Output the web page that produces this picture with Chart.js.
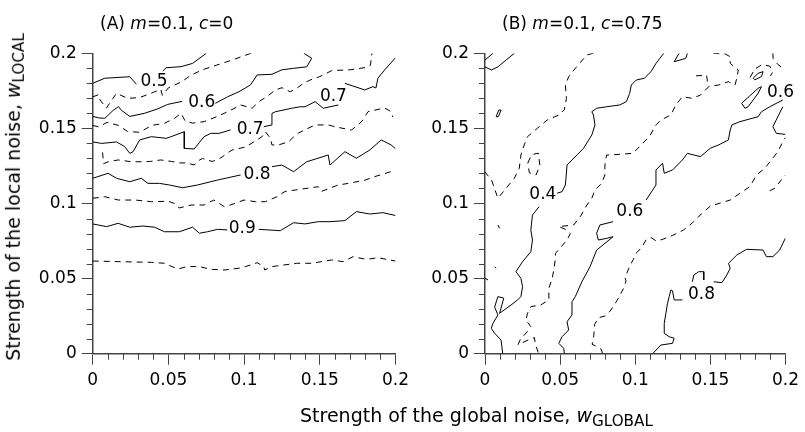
<!DOCTYPE html>
<html>
<head>
<meta charset="utf-8">
<script src="https://cdn.jsdelivr.net/npm/chart.js@4/dist/chart.umd.min.js"></script>
<style>
  body { margin: 0; background: #fff; }
  #wrap { position: relative; width: 805px; height: 432px; font-family: "DejaVu Sans", sans-serif; color: #000; overflow: hidden; }
  canvas { position: absolute; top: 0; }
  #chartA { left: 0; }
  #chartB { left: 400px; }
  .title { position: absolute; top: 13px; font-size: 17px; line-height: 20px; white-space: nowrap; }
  .axis-title { position: absolute; font-size: 19px; line-height: 22px; white-space: nowrap; }
  .sub { font-size: 0.8em; vertical-align: -0.28em; }
  #xtitle { left: 300px; top: 404px; }
  #ytitle { left: 16px; top: 197px; transform: translate(-50%, -50%) rotate(-90deg); }
</style>
</head>
<body>
<div id="wrap">
  <canvas id="chartA" width="415" height="432" style="width:415px;height:432px"></canvas>
  <canvas id="chartB" width="405" height="432" style="width:405px;height:432px"></canvas>
  <div class="title" style="left:100px">(A) <i>m</i>=0.1, <i>c</i>=0</div>
  <div class="title" style="left:502px">(B) <i>m</i>=0.1, <i>c</i>=0.75</div>
  <div class="axis-title" id="xtitle">Strength of the global noise, <i>w</i><span class="sub">GLOBAL</span></div>
  <div class="axis-title" id="ytitle">Strength of the local noise, <i>w</i><span class="sub">LOCAL</span></div>
</div>
<script>
// Panel A contours (c = 0), [w_GLOBAL, w_LOCAL], null = break in the line
const a05 = [[0,0.180],[0.008,0.1834],[0.0245,0.1844],[0.0289,0.1794],null,[0.0463,0.1882],[0.0485,0.1904],[0.0584,0.1911],[0.066,0.1933],[0.075,0.2]];
const a055 = [[0,0.171],[0.004,0.1725],[0.0048,0.169],[0.009,0.1635],[0.0157,0.1734],[0.023,0.170],[0.031,0.1705],[0.040,0.174],[0.045,0.176],[0.046,0.172],[0.05,0.177],[0.0587,0.181],[0.065,0.1855],[0.0725,0.189],[0.0815,0.192],[0.092,0.1955],[0.1045,0.2]];
const a06 = [[0,0.158],[0.004,0.157],[0.008,0.1567],[0.0135,0.162],[0.017,0.1645],[0.019,0.162],[0.0245,0.158],[0.034,0.160],[0.043,0.163],[0.0496,0.166],[0.059,0.168],null,[0.081,0.1667],[0.089,0.171],[0.0966,0.1744],[0.1043,0.179],[0.1064,0.1822],[0.1086,0.1856],[0.1184,0.186],[0.125,0.189],[0.1327,0.19],[0.1414,0.191],[0.1447,0.1967],[0.1395,0.2]];
const a065 = [[0,0.152],[0.004,0.151],[0.0095,0.154],[0.017,0.152],[0.023,0.148],[0.031,0.1474],[0.039,0.152],[0.0474,0.1534],[0.054,0.1567],[0.0584,0.160],[0.061,0.155],[0.066,0.1535],[0.0736,0.1545],[0.0824,0.158],[0.091,0.162],[0.0977,0.1656],[0.1053,0.1634],[0.1097,0.1678],[0.115,0.1711],[0.1207,0.1756],[0.125,0.1771],[0.1305,0.1744],[0.1348,0.1767],[0.1392,0.180],[0.1436,0.1822],[0.150,0.1845],[0.158,0.1885],[0.170,0.189],[0.180,0.1905],[0.1835,0.192],[0.184,0.197],[0.1845,0.2]];
const a07 = [[0,0.141],[0.006,0.140],[0.0157,0.141],[0.021,0.138],[0.0245,0.1334],[0.0267,0.1345],[0.031,0.1423],[0.0387,0.1445],[0.0485,0.1434],[0.0518,0.1445],[0.0605,0.1478],[0.0605,0.1367],[0.067,0.1363],[0.0736,0.1445],[0.078,0.1467],[0.0835,0.1467],[0.0911,0.149],null,[0.113,0.1511],[0.1184,0.1523],[0.1184,0.160],[0.1207,0.1611],[0.1315,0.1634],[0.137,0.1644],[0.1403,0.1644],[0.1469,0.1678],[0.1523,0.1634],[0.1622,0.1656],null,[0.1666,0.180],[0.1797,0.1756],[0.1851,0.1778],[0.1871,0.1769],[0.1884,0.1834],[0.1928,0.1889],[0.2,0.197]];
const a075 = [[0.0065,0.134],[0.0072,0.1265],[0.0102,0.1278],[0.0168,0.129],[0.0256,0.1278],[0.0321,0.1278],[0.038,0.128],[0.045,0.129],[0.052,0.128],[0.058,0.127],[0.0625,0.127],[0.067,0.1256],[0.069,0.128],[0.0725,0.130],[0.0757,0.129],[0.079,0.128],[0.082,0.129],[0.0855,0.131],[0.089,0.1336],[0.092,0.1356],[0.101,0.1376],[0.1119,0.1445],[0.1141,0.1478],[0.1174,0.1434],[0.1184,0.139],[0.1228,0.139],[0.1294,0.1411],[0.134,0.1456],[0.136,0.147],[0.1469,0.1523],[0.1556,0.1523],[0.160,0.1511],[0.1709,0.1489],[0.1753,0.1523],[0.1786,0.1556],[0.1805,0.159],[0.1818,0.1611],[0.1928,0.1636],[0.1971,0.1611],[0.1982,0.1576]];
const a08 = [[0,0.1168],[0.0102,0.1201],[0.0157,0.1168],[0.0245,0.1145],[0.0321,0.1168],[0.0365,0.1134],[0.0441,0.1134],[0.0507,0.1123],[0.0594,0.1105],[0.0692,0.1123],[0.0824,0.1156],[0.0977,0.119],null,[0.1184,0.1245],[0.125,0.1256],[0.1327,0.1212],[0.1414,0.1278],[0.1556,0.1323],[0.1567,0.1256],[0.1666,0.1345],[0.1742,0.1301],[0.183,0.1356],[0.1906,0.1423],[0.1971,0.139],[0.2,0.1365]];
const a085 = [[0,0.1035],[0.008,0.1045],[0.017,0.1023],[0.028,0.1023],[0.039,0.1012],[0.05,0.1015],[0.054,0.100],[0.057,0.097],[0.065,0.099],[0.0736,0.099],[0.08,0.1023],[0.0868,0.098],[0.091,0.099],[0.1,0.1023],[0.1075,0.1012],[0.114,0.1012],[0.1217,0.1045],[0.127,0.108],[0.149,0.1112],[0.151,0.108],[0.162,0.1123],[0.169,0.1134],[0.18,0.1156],[0.186,0.1178],[0.197,0.1212],[0.2,0.1215]];
const a09 = [[0,0.0864],[0.0092,0.0846],[0.0168,0.0868],[0.0245,0.0842],[0.0332,0.085],[0.0409,0.0842],[0.0474,0.0812],[0.0572,0.0812],[0.066,0.0842],[0.0704,0.0802],[0.0758,0.0812],[0.0824,0.0828],[0.0889,0.0824],null,[0.1097,0.0828],[0.1239,0.0819],[0.1327,0.0872],[0.1403,0.0864],[0.149,0.0879],[0.1567,0.0879],[0.1666,0.0886],[0.1742,0.0946],[0.183,0.093],[0.1917,0.0939],[0.2,0.092]];
const a095 = [[0,0.0617],[0.0168,0.0613],[0.0387,0.0608],[0.0474,0.0602],[0.0561,0.0564],[0.0627,0.058],[0.0704,0.058],[0.078,0.0562],[0.0868,0.0557],[0.0966,0.0569],[0.101,0.058],[0.1086,0.0606],[0.113,0.058],[0.1136,0.0557],[0.1184,0.058],[0.1348,0.0602],[0.1447,0.0602],[0.1578,0.0624],[0.1654,0.0613],[0.172,0.0646],[0.1807,0.0628],[0.1884,0.0639],[0.2,0.0617]];

// Panel B contours (c = 0.75)
const bCorner = [[0,0.1955],[0.0053,0.2],null,[0,0.191],[0.0042,0.1889],[0.0086,0.191],[0.0195,0.2],null,[0.0074,0.1578],[0.0092,0.1622],[0.0107,0.1622],[0.0089,0.1578],[0.0074,0.1578]];
const b03 = [[0.072,0.2],[0.0678,0.1989],[0.0601,0.190],[0.0557,0.1844],[0.0535,0.1789],[0.0542,0.170],[0.0528,0.1623],[0.0491,0.1589],[0.0414,0.1556],[0.0349,0.1501],[0.0283,0.1445],[0.0261,0.139],[0.0239,0.1323],[0.0228,0.1234],[0.0195,0.1168],[0.014,0.1101],[0.0086,0.1035],[0.0044,0.1155],[0,0.121],null,[0.0285,0.127],[0.031,0.1325],[0.0355,0.1335],[0.0365,0.1255],[0.034,0.119],[0.0295,0.1205],[0.0285,0.127],null,[0.0086,0.0857],[0.0097,0.0835],null,[0.0064,0.0579],[0.0074,0.0569],null,[0,0.0502],[0.002,0.0491]];
const b04 = [[0.0118,0],[0.0107,0.0091],[0.0064,0.0136],[0.0042,0.0169],[0.0053,0.0202],[0.0086,0.0258],[0.0064,0.031],[0.0086,0.038],[0.0125,0.037],[0.0097,0.0269],[0.0173,0.0324],[0.0217,0.0358],[0.0239,0.038],[0.025,0.0446],[0.0239,0.0502],[0.0206,0.0546],[0.025,0.0613],[0.0305,0.0679],[0.0316,0.0757],[0.0305,0.0824],[0.0316,0.0923],[0.036,0.0979],null,[0.048,0.1068],[0.0513,0.1079],[0.0535,0.1123],[0.0546,0.1256],[0.0579,0.129],[0.0612,0.1323],[0.0656,0.1368],[0.0711,0.1456],[0.0732,0.1523],[0.0722,0.1589],[0.0711,0.1611],[0.0743,0.1634],[0.0809,0.1644],[0.0897,0.1656],[0.0941,0.1678],[0.0963,0.1734],[0.0974,0.1789],[0.1007,0.1822],[0.1061,0.1834],[0.1105,0.1878],[0.1138,0.1933],[0.119,0.2],null,[0.1292,0.2],[0.1259,0.1944],[0.1336,0.1966],[0.1347,0.2]];
const b05 = [[0.152,0.2],[0.16,0.1995],[0.1632,0.1977],[0.1632,0.1933],[0.1686,0.1889],[0.1676,0.1834],[0.1664,0.1789],[0.162,0.1811],[0.1555,0.1789],[0.1489,0.1778],[0.1434,0.1722],[0.138,0.170],[0.1314,0.1711],[0.127,0.1656],[0.1237,0.1589],[0.1171,0.1556],[0.1138,0.1523],[0.1094,0.1445],[0.1039,0.139],[0.0985,0.1334],[0.0831,0.1323],[0.0809,0.1323],[0.0798,0.1256],[0.0798,0.119],[0.0776,0.1134],[0.0732,0.109],[0.0711,0.1035],[0.0678,0.099],[0.0634,0.0912],[0.059,0.0857],[0.0491,0.0846],[0.0535,0.0828],[0.0568,0.080],[0.0546,0.0757],[0.0469,0.0668],[0.0469,0.0635],[0.0458,0.0557],[0.0447,0.0502],[0.0425,0.0435],[0.0425,0.0358],[0.037,0.0324],[0.0305,0.0313],[0.0283,0.0269],[0.0272,0.0224],[0.0305,0.018],[0.028,0.0145],[0.0235,0.0095],[0.022,0.006],[0.0274,0.0085],[0.0329,0.0107],[0.0336,0.006],[0.0357,0],null,[0.1405,0.185],[0.1475,0.1855],[0.1485,0.1778]];
const b06 = [[0.0528,0],[0.0524,0.0036],[0.0491,0.0069],[0.0513,0.0113],[0.0557,0.0158],[0.0546,0.0213],[0.0579,0.0258],[0.0579,0.0346],[0.0601,0.038],[0.0645,0.0479],[0.0699,0.0579],[0.0743,0.069],[0.0853,0.0779],[0.081,0.0768],[0.0754,0.0757],[0.0743,0.0802],[0.0765,0.0857],[0.0853,0.0879],null,[0.1072,0.1023],[0.1138,0.1123],[0.1138,0.1223],[0.1182,0.1268],[0.1193,0.1201],[0.1248,0.1223],[0.1314,0.129],[0.1347,0.1334],[0.139,0.1323],[0.1434,0.1312],[0.15,0.1368],[0.1555,0.139],[0.162,0.1423],[0.1632,0.1489],[0.1643,0.1523],[0.1697,0.1545],[0.1818,0.1578],[0.184,0.1611],[0.1895,0.1644],[0.1982,0.1689],null,[0.1982,0.1644],[0.1916,0.1511],[0.1939,0.1467],[0.2,0.146],null,[0.1708,0.1667],[0.173,0.1634],[0.1752,0.1645],[0.1818,0.1734],[0.184,0.1778],[0.1818,0.1767],[0.1708,0.1667],null,[0.1785,0.1834],[0.1818,0.1867],[0.1851,0.1878],[0.184,0.1845],[0.1796,0.1823],[0.1785,0.1834]];
const b065 = [[0.1765,0.184],[0.1795,0.1895],[0.1845,0.1925],[0.1895,0.1915],[0.1915,0.1875],[0.190,0.185],null,[0.1916,0.2],[0.1918,0.1965],[0.195,0.1925],[0.199,0.1895]];
const b07 = [[0.0783,0],[0.0774,0.0029],[0.0745,0.0047],[0.0713,0.0063],[0.0724,0.0118],[0.073,0.0196],[0.0757,0.024],[0.080,0.0251],[0.0833,0.0284],[0.0877,0.0351],[0.0921,0.0433],[0.0939,0.0484],[0.0932,0.0506],[0.0959,0.0573],[0.0987,0.0628],[0.1009,0.0672],[0.1042,0.0706],[0.1075,0.0762],[0.1107,0.0772],[0.114,0.075],[0.1184,0.0762],[0.125,0.0788],[0.1322,0.0824],[0.1382,0.0872],[0.144,0.093],[0.150,0.0983],[0.1632,0.1023],[0.1697,0.1068],[0.1763,0.1112],[0.1807,0.119],[0.1862,0.1234],[0.1906,0.129],[0.1949,0.1345],[0.1982,0.1411],[0.2,0.144],null,[0.1895,0.1085],[0.193,0.1102],[0.1972,0.1157],[0.2,0.119]];
const b08 = [[0.1116,0],[0.1171,0.0058],[0.1248,0.0069],[0.1259,0.0103],[0.1226,0.0113],[0.1193,0.0136],[0.1193,0.0202],[0.1204,0.0269],[0.1215,0.0336],[0.1226,0.038],[0.1237,0.0424],[0.1248,0.0419],[0.1259,0.0358],[0.1314,0.0358],null,[0.1522,0.0479],[0.1577,0.0473],[0.161,0.0524],[0.1632,0.0569],[0.1621,0.0602],[0.1676,0.0657],[0.1741,0.0695],[0.1851,0.069],[0.1873,0.0646],[0.1916,0.0646],[0.1961,0.069],[0.2,0.077],null,[0.138,0.0479],[0.139,0.0524],[0.1423,0.0546],[0.1456,0.0546],[0.1456,0.0491]];

// Inline contour labels
const labelTextA = ["0.5", "0.6", "0.7", "0.7", "0.8", "0.9"];
const labelXA = [0.0405, 0.072, 0.104, 0.159, 0.1086, 0.0988];
const labelYA = [0.1813, 0.1672, 0.1495, 0.171, 0.119, 0.083];
const labelTextB = ["0.4", "0.6", "0.6", "0.8"];
const labelXB = [0.0385, 0.0964, 0.1967, 0.1441];
const labelYB = [0.106, 0.0947, 0.1739, 0.0395];

const minorValues = [0.01, 0.02, 0.03, 0.04, 0.06, 0.07, 0.08, 0.09, 0.11, 0.12, 0.13, 0.14, 0.16, 0.17, 0.18, 0.19];

Chart.defaults.font.family = "DejaVu Sans";
Chart.defaults.font.size = 17;
Chart.defaults.color = "#000";

const axisColor = "#444";

// split a contour at its nulls into line datasets
function makeDatasets(line, dashed) {
    const segments = [];
    let seg = [];
    line.forEach(p => {
        if (p === null) {
            if (seg.length) segments.push(seg);
            seg = [];
        } else {
            seg.push({ x: p[0], y: p[1] });
        }
    });
    if (seg.length) segments.push(seg);
    return segments.map(s => ({
        data: s,
        borderColor: "#000",
        borderWidth: 1,
        borderDash: dashed ? [6, 5] : [],
        pointRadius: 0,
        tension: 0,
        fill: false
    }));
}

function labelPlugin(texts, xs, ys) {
    return {
        id: "contourLabels",
        afterDatasetsDraw(chart) {
            const { ctx, scales: { x, y } } = chart;
            ctx.save();
            ctx.font = '17px "DejaVu Sans"';
            ctx.fillStyle = "#000";
            ctx.textAlign = "center";
            ctx.textBaseline = "middle";
            texts.forEach((t, i) => {
                ctx.fillText(t, x.getPixelForValue(xs[i]), y.getPixelForValue(ys[i]));
            });
            ctx.restore();
        }
    };
}

const minorTicks = {
    id: "minorTicks",
    afterDraw(chart) {
        const { ctx, scales: { x, y } } = chart;
        ctx.save();
        ctx.strokeStyle = axisColor;
        ctx.lineWidth = 1;
        ctx.beginPath();
        minorValues.forEach(v => {
            const px = Math.round(x.getPixelForValue(v)) + 0.5;
            ctx.moveTo(px, x.top);
            ctx.lineTo(px, x.top + 6);
            const py = Math.round(y.getPixelForValue(v)) + 0.5;
            ctx.moveTo(y.right, py);
            ctx.lineTo(y.right - 6, py);
        });
        ctx.stroke();
        ctx.restore();
    }
};

function axis(extra, pad) {
    return Object.assign({
        type: "linear",
        min: 0,
        max: 0.2,
        border: { display: true, color: axisColor, width: 1.5 },
        grid: { display: true, drawOnChartArea: false, drawTicks: true, tickLength: 11, color: axisColor, lineWidth: 1 },
        ticks: {
            stepSize: 0.05,
            autoSkip: false,
            maxRotation: 0,
            padding: pad,
            callback: v => String(Number(v.toFixed(2)))
        }
    }, extra);
}

function makeChart(id, solid, dashed, labels, yWidth, rightPad) {
    const datasets = [];
    solid.forEach(l => datasets.push(...makeDatasets(l, false)));
    dashed.forEach(l => datasets.push(...makeDatasets(l, true)));
    return new Chart(document.getElementById(id), {
        type: "line",
        data: { datasets },
        options: {
            responsive: false,
            animation: false,
            events: [],
            layout: { padding: { left: 0, top: 53.3, right: rightPad, bottom: 38.3 } },
            plugins: { legend: { display: false }, tooltip: { enabled: false } },
            scales: {
                x: axis({ position: "bottom", afterFit: s => { s.height = 40; } }, 6),
                y: axis({ position: "left", afterFit: s => { s.width = yWidth; } }, 5)
            }
        },
        plugins: [labels, minorTicks]
    });
}

makeChart("chartA", [a05, a06, a07, a08, a09], [a055, a065, a075, a085, a095],
    labelPlugin(labelTextA, labelXA, labelYA), 92.7, 17.3);
makeChart("chartB", [bCorner, b04, b06, b08], [b03, b05, b065, b07],
    labelPlugin(labelTextB, labelXB, labelYB), 85, 16);
</script>
</body>
</html>
